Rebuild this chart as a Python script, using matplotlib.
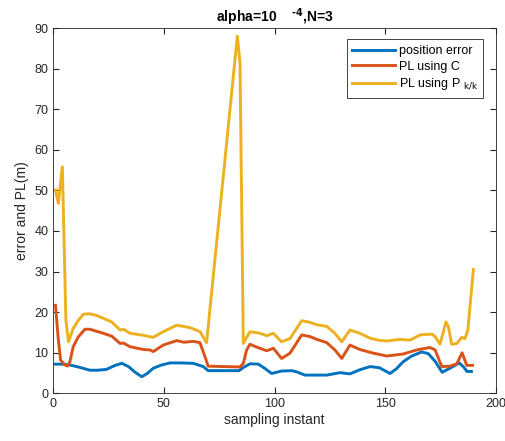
import matplotlib
matplotlib.use("Agg")
from matplotlib import pyplot as plt

# values
err_x = [1, 4, 7.5, 12, 16.6, 20, 24, 28, 31, 34, 37, 40, 42.5, 45.2, 49, 52.8, 58, 63.3,
         67.8, 70, 84, 86, 89, 92.7, 95.5, 98.7, 103.2, 107.8, 110, 113.8, 123.6, 129.6,
         134.1, 138.5, 143.2, 147.5, 152.2, 155, 158.2, 162, 166.5, 169.5, 172.6, 175.8,
         179.3, 183.5, 185.5, 187, 189]
err_y = [7.2, 7.2, 7.0, 6.4, 5.7, 5.7, 5.9, 6.9, 7.4, 6.6, 5.2, 4.1, 4.9, 6.2, 7.0, 7.5, 7.5, 7.4,
         6.6, 5.6, 5.6, 6.4, 7.3, 7.2, 6.2, 4.9, 5.5, 5.6, 5.3, 4.5, 4.5, 5.1,
         4.8, 5.8, 6.6, 6.3, 4.9, 6.0, 7.8, 9.2, 10.2, 9.8, 7.9, 5.2,
         6.2, 7.5, 6.5, 5.4, 5.4]

plc_x = [1, 2.3, 3.3, 5.3, 6.5, 7.5, 9, 11.3, 14.3, 16.6, 19.5, 22.6, 26.4, 30.2, 31.7, 34.7,
         40.7, 43.7, 45.2, 49.7, 55.8, 59, 63.3, 66.3, 68.6, 70, 84.4, 85.9, 87.4, 88.9, 91,
         93.4, 96.5, 99.5, 103.2, 107, 112.3, 116, 119.1, 123.6, 127.3, 130.4, 134.1, 138.6,
         144.7, 150.7, 158.2, 164.3, 170.3, 172.6, 175.6, 179.3, 182.4, 184.8, 186.9, 189.5]
plc_y = [21.7, 13.1, 8.2, 7.0, 6.7, 7.8, 11.5, 13.9, 15.8, 15.8, 15.3, 14.8, 14.1, 12.3, 12.4, 11.5,
         10.8, 10.7, 10.3, 11.9, 13.0, 12.6, 12.8, 12.5, 9.0, 6.7, 6.5, 7.4, 10.7, 12.1, 11.6,
         11.1, 10.5, 11.1, 8.6, 9.9, 14.4, 14.0, 13.3, 12.5, 10.7, 8.6, 11.9, 10.8,
         9.9, 9.2, 9.7, 10.7, 11.3, 10.7, 6.6, 6.7, 7.3, 10.0, 6.9, 6.9]

plp_x = [1, 2.3, 4.1, 5.7, 6.9, 9, 11.3, 13.6, 16.6, 19.5, 22.6, 26.4, 30.2, 31.7, 34.7, 40.7,
         45.2, 49.7, 52.8, 55.8, 61.8, 66.3, 68.6, 69.3, 83.2, 84.4, 85.9, 88.9, 93.4, 96.5,
         99.5, 103.2, 107, 112.3, 116, 119.1, 123.6, 127.3, 130.4, 134.1, 138.6, 143.2, 146.9,
         150.7, 156.7, 161.2, 165.8, 171.1, 172.6, 174.8, 176.1, 177.5, 178.6, 180.1, 182.4,
         184.6, 186.1, 187.4, 189.9]
plp_y = [50.1, 46.8, 55.8, 18.0, 12.7, 16.0, 18.0, 19.5, 19.6, 19.2, 18.5, 17.6, 15.6, 15.8, 14.8, 14.3,
         13.8, 15.2, 16.0, 16.8, 16.2, 15.2, 13.1, 12.5, 88.0, 81.3, 12.3, 15.2, 14.8, 14.2,
         14.8, 12.7, 13.5, 17.9, 17.5, 16.9, 16.5, 14.8, 12.7, 15.6, 14.8, 13.6, 13.1,
         12.9, 13.3, 13.1, 14.4, 14.6, 14.0, 12.1, 14.7, 17.6, 16.4, 12.1, 12.3,
         13.8, 13.5, 15.6, 30.5]

x_ticks = [0, 50, 100, 150, 200]
y_ticks = [0, 10, 20, 30, 40, 50, 60, 70, 80, 90]

plt.rcParams['font.family'] = ['Liberation Sans', 'DejaVu Sans']

fig = plt.figure(figsize=(5.06, 4.41), dpi=100)
ax = fig.add_axes([0.1053, 0.108, 0.8744, 0.8285])

ax.plot(err_x, err_y, color='#0072BD', lw=2.1, label='position error')
ax.plot(plc_x, plc_y, color='#D95319', lw=2.1, label='PL using C')
ax.plot(plp_x, plp_y, color='#EDB120', lw=2.1, label='PL using P $_{\\mathrm{k/k}}$')

ax.set_xlim(0, 200)
ax.set_ylim(0, 90)
ax.set_xticks(x_ticks)
ax.set_yticks(y_ticks)
ax.tick_params(direction='in', top=True, right=True, labelsize=9, colors='#262626', length=4)
for s in ax.spines.values():
    s.set_color('#262626')
    s.set_linewidth(0.6)

ax.set_xlabel('sampling instant', fontsize=10, color='#262626', labelpad=2)
ax.set_ylabel('error and PL(m)', fontsize=10, color='#262626', labelpad=4)
ax.set_title('alpha=10    $^{\\mathbf{\u2010 4}}$,N=3', fontsize=10, fontweight='bold', pad=4)

leg = ax.legend(loc='upper right', bbox_to_anchor=(0.972, 0.969), borderaxespad=0,
                fancybox=False, framealpha=1, edgecolor='#262626', fontsize=9,
                handlelength=3.4, handletextpad=0.3, labelspacing=0.3, borderpad=0.45)
leg.get_frame().set_linewidth(0.6)

fig.savefig('out.png', dpi=100)
